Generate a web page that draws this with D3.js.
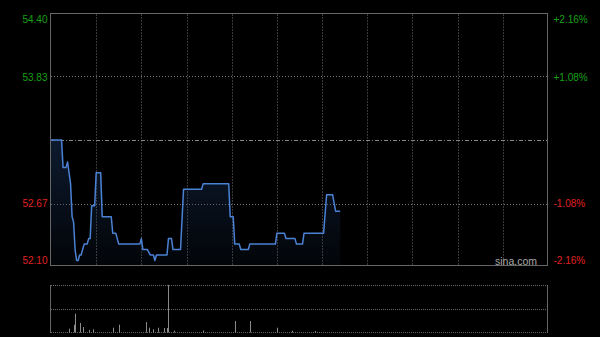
<!DOCTYPE html>
<html>
<head>
<meta charset="utf-8">
<script src="https://cdn.jsdelivr.net/npm/d3@7/dist/d3.min.js"></script>
<style>
  html, body { margin: 0; padding: 0; background: #000; }
  svg { display: block; }
</style>
</head>
<body>
<div id="chart"></div>
<script>
var FONT = '"Liberation Sans", Arial, sans-serif';
var W = 600, H = 337;

// price axis
var prevClose = 53.25;
var priceTicks = [54.40, 53.83, 52.67, 52.10];
var pctLabels = ['+2.16%', '+1.08%', '-1.08%', '-2.16%'];
var gridMinutes = [30, 60, 90, 120, 150, 180, 210, 240, 270, 300];
var totalMinutes = 330;

// intraday price, minutes from open
var minutes = [0, 7, 8, 10, 11, 13, 14, 15, 16, 17, 18, 19, 20, 22, 24, 25, 26, 27, 29, 30,
               33, 34, 40, 41, 43, 45, 59, 60, 61, 64, 66, 68, 69, 70, 77, 78, 80, 81, 86, 88,
               100, 101, 118, 119, 121, 122, 125, 126, 131, 132, 149, 150, 155, 156, 162, 163,
               167, 168, 181, 183, 187, 189, 192];
var prices = [53.25, 53.25, 53.00, 53.00, 53.05, 52.85, 52.55, 52.50, 52.25, 52.15, 52.15, 52.20, 52.20, 52.30, 52.30, 52.35, 52.35, 52.65, 52.65, 52.95,
              52.95, 52.55, 52.55, 52.40, 52.40, 52.30, 52.30, 52.35, 52.25, 52.25, 52.20, 52.20, 52.15, 52.20, 52.20, 52.35, 52.35, 52.25, 52.25, 52.80,
              52.80, 52.85, 52.85, 52.55, 52.55, 52.30, 52.30, 52.25, 52.25, 52.30, 52.30, 52.40, 52.40, 52.35, 52.35, 52.30,
              52.30, 52.40, 52.40, 52.75, 52.75, 52.60, 52.60];

// volume bars (visible ones)
var volMinutes = [12, 15, 16, 19, 21, 25, 28, 41, 45, 63, 65, 68, 71, 75, 77, 78, 82, 101, 122, 132, 150, 160, 175];
var volumes = [33, 73, 183, 90, 50, 20, 27, 43, 73, 100, 43, 27, 43, 40, 40, 470, 15, 15, 110, 110, 43, 12, 10];
var volMax = 470;

var svg = d3.select('#chart').append('svg').attr('width', W).attr('height', H)
    .style('background', '#000').style('font-family', FONT);

var main = { left: 51, right: 548, top: 14, bottom: 266 };
var vol = { top: 285, bottom: 332 };

var x = d3.scaleLinear().domain([0, totalMinutes]).range([main.left, main.right]);
var y = d3.scaleLinear().domain([52.10, 54.40]).range([main.bottom, main.top]);
var yv = d3.scaleLinear().domain([0, volMax]).range([vol.bottom, vol.top]);

var defs = svg.append('defs');
var grad = defs.append('linearGradient').attr('id', 'area-grad')
    .attr('x1', '0%').attr('x2', '0%').attr('y1', '0%').attr('y2', '100%');
grad.append('stop').attr('offset', '0%').attr('stop-color', '#1d3a66').attr('stop-opacity', 0.45);
grad.append('stop').attr('offset', '100%').attr('stop-color', '#1d3a66').attr('stop-opacity', 0.08);

// vertical grid
svg.append('g').selectAll('line').data(gridMinutes).enter().append('line')
    .attr('x1', function (d) { return Math.round(x(d)) + 0.5; })
    .attr('x2', function (d) { return Math.round(x(d)) + 0.5; })
    .attr('y1', main.top).attr('y2', main.bottom)
    .attr('stroke', '#3a3a3a').attr('stroke-dasharray', '2,1');

// horizontal grid
svg.append('g').selectAll('line').data([priceTicks[1], priceTicks[2]]).enter().append('line')
    .attr('x1', main.left).attr('x2', main.right)
    .attr('y1', function (d) { return Math.round(y(d)) + 0.5; })
    .attr('y2', function (d) { return Math.round(y(d)) + 0.5; })
    .attr('stroke', '#777').attr('stroke-dasharray', '1,2');

svg.append('line').attr('x1', main.left).attr('x2', main.right)
    .attr('y1', Math.round(y(prevClose)) + 0.5).attr('y2', Math.round(y(prevClose)) + 0.5)
    .attr('stroke', '#888').attr('stroke-dasharray', '4,2,1,2');

// price area and line
var pts = minutes.map(function (m, i) { return { m: m, p: prices[i] }; });
var area = d3.area().x(function (d) { return x(d.m); }).y0(main.bottom).y1(function (d) { return y(d.p); });
var line = d3.line().x(function (d) { return x(d.m); }).y(function (d) { return y(d.p); });
svg.append('path').datum(pts).attr('d', area).attr('fill', 'url(#area-grad)');
svg.append('path').datum(pts).attr('d', line).attr('fill', 'none')
    .attr('stroke', '#4b82d4').attr('stroke-width', 1.5).attr('stroke-linejoin', 'round');

// frame
svg.append('rect').attr('x', main.left - 0.5).attr('y', main.top - 0.5)
    .attr('width', main.right - main.left).attr('height', main.bottom - main.top)
    .attr('fill', 'none').attr('stroke', '#666');

// axis labels
var isUp = function (d) { return d > prevClose; };
var labelY = [22.5, 80.5, 206.5, 264];
svg.append('g').selectAll('text').data(priceTicks).enter().append('text')
    .attr('x', 47.5).attr('y', function (d, i) { return labelY[i]; })
    .attr('text-anchor', 'end').style('font-size', '10px')
    .attr('fill', function (d) { return isUp(d) ? '#16a016' : '#e02020'; })
    .text(function (d) { return d.toFixed(2); });
svg.append('g').selectAll('text').data(pctLabels).enter().append('text')
    .attr('x', 553.5).attr('y', function (d, i) { return labelY[i]; })
    .attr('text-anchor', 'start').style('font-size', '10px')
    .attr('fill', function (d, i) { return isUp(priceTicks[i]) ? '#16a016' : '#e02020'; })
    .text(function (d) { return d; });

svg.append('text').attr('x', 537).attr('y', 265).attr('text-anchor', 'end')
    .style('font-size', '10.5px').attr('fill', '#aaa').text('sina.com');

// volume panel
svg.append('g').selectAll('line').data([vol.top, (vol.top + vol.bottom) / 2, vol.bottom]).enter().append('line')
    .attr('x1', main.left).attr('x2', main.right)
    .attr('y1', function (d) { return Math.round(d) + 0.5; })
    .attr('y2', function (d) { return Math.round(d) + 0.5; })
    .attr('stroke', '#666').attr('stroke-dasharray', '1,1');
svg.append('g').selectAll('line').data([main.left - 0.5, main.right - 0.5]).enter().append('line')
    .attr('x1', function (d) { return d; }).attr('x2', function (d) { return d; })
    .attr('y1', vol.top).attr('y2', vol.bottom + 1)
    .attr('stroke', '#666');

svg.append('g').selectAll('line').data(volMinutes).enter().append('line')
    .attr('x1', function (d) { return Math.round(x(d)) + 0.5; })
    .attr('x2', function (d) { return Math.round(x(d)) + 0.5; })
    .attr('y1', vol.bottom + 0.5)
    .attr('y2', function (d, i) { return yv(volumes[i]); })
    .attr('stroke', '#8a8a8a').attr('stroke-width', 1);
</script>
</body>
</html>
